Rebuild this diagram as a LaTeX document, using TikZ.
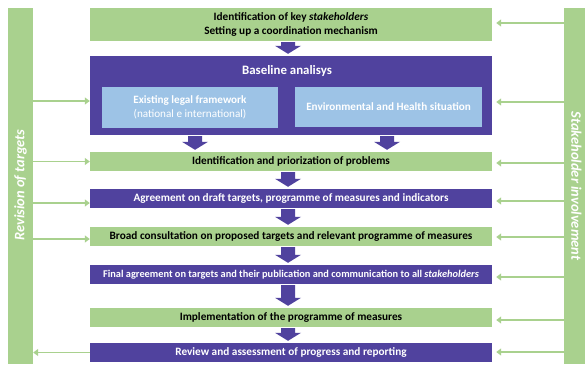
\documentclass[tikz,border=0pt]{standalone}
\usepackage{fontspec}
\setmainfont{Carlito}
\usetikzlibrary{calc,arrows.meta}
\definecolor{gr}{RGB}{169,209,142}
\definecolor{pu}{RGB}{80,66,158}
\definecolor{lb}{RGB}{157,195,230}
\tikzset{
  box/.style={minimum width=402bp, minimum height=19bp, inner sep=0pt, font=\bfseries\fontsize{11.3}{13}\selectfont},
  gbox/.style={box, fill=gr, text=black},
  pbox/.style={box, fill=pu, text=white},
  sidebar/.style={fill=gr, minimum width=25bp, minimum height=356bp, inner sep=0pt},
  sidetext/.style={text=white, font=\bfseries\itshape\fontsize{14.5}{16}\selectfont},
  subbox/.style={fill=lb, text=white, inner sep=0pt, align=center, font=\fontsize{11.2}{13.5}\selectfont},
  conn/.style={draw=gr, line width=1.6bp, -{Triangle[length=5bp,width=7bp]}},
  blkfill/.style={fill=pu},
}
\newcommand\blockarrow[3]{%
  \fill[blkfill] let \p1=(#1,0 |- #2.south), \p2=(#1,0 |- #3.north) in
    (\x1-7bp,\y1-1bp) -- (\x1+7bp,\y1-1bp) -- (\x1+7bp,\y2+10bp) -- (\x1+13bp,\y2+10bp)
    -- (\x1,\y2+2bp) -- (\x1-13bp,\y2+10bp) -- (\x1-7bp,\y2+10bp) -- cycle;}
\begin{document}
\begin{tikzpicture}[x=1bp,y=-1bp]
\useasboundingbox (0,0) rectangle (585,364);
% side bars
\node[sidebar] (rev) at (20.5,186) {};
\node[sidetext, rotate=90] (revtxt) at (20.5,185) {Revision of targets};
\node[sidebar] (stake) at (576.5,186) {};
\node[sidetext, rotate=-90] (staketxt) at (576.5,186) {Stakeholder involvement};
% main boxes
\node[gbox, minimum height=33bp, align=center, font=\bfseries\fontsize{11.3}{14}\selectfont] (top) at (291,24.5)
  {Identification of key \textit{stakeholders}\\Setting up a coordination mechanism};
\node[pbox, minimum height=79bp] (base) at (291,95.5) {};
\node[text=white, font=\bfseries\fontsize{12.9}{15}\selectfont, inner sep=0pt] (basetxt) at (287,71) {Baseline analisys};
\node[subbox, minimum width=176bp, minimum height=41bp] (legal) at (190,107.5)
  {\textbf{Existing legal framework}\\(national e international)};
\node[subbox, minimum width=187bp, minimum height=40bp] (env) at (388.5,107)
  {\textbf{Environmental and Health situation}};
\node[gbox] (ident) at (291,161.5) {Identification and priorization of problems};
\node[pbox] (agree) at (291,198.5) {Agreement on draft targets, programme of measures and indicators};
\node[gbox] (broad) at (291,236.5) {Broad consultation on proposed targets and relevant programme of measures};
\node[pbox, font=\bfseries\fontsize{10.4}{12}\selectfont] (final) at (291,274.5) {Final agreement on targets and their publication and communication to all \textit{stakeholders}};
\node[gbox] (impl) at (291,317.5) {Implementation of the programme of measures};
\node[pbox] (review) at (291,352.5) {Review and assessment of progress and reporting};
% block arrows
\blockarrow{288}{top}{base}
\blockarrow{195}{base}{ident}
\blockarrow{387}{base}{ident}
\blockarrow{288}{ident}{agree}
\blockarrow{288}{agree}{broad}
\blockarrow{288}{broad}{final}
\blockarrow{288}{final}{impl}
\blockarrow{288}{impl}{review}
% left connectors
\draw[conn] (rev.east |- 0,101) -- (base.west |- 0,101);
\draw[conn] (rev.east |- ident.west) -- (ident.west);
\draw[conn] (rev.east |- 0,203) -- (agree.west |- 0,203);
\draw[conn] (rev.east |- 0,239) -- (broad.west |- 0,239);
\draw[conn] (review.west) -- (rev.east |- review.west);
% right connectors
\draw[conn] (stake.west |- 0,23) -- ([xshift=4bp]top.east |- 0,23);
\draw[conn] (stake.west |- 0,102) -- ([xshift=4bp]base.east |- 0,102);
\draw[conn] (stake.west |- 0,163) -- ([xshift=4bp]ident.east |- 0,163);
\draw[conn] (stake.west |- 0,201) -- ([xshift=4bp]agree.east |- 0,201);
\draw[conn] (stake.west |- 0,237) -- ([xshift=4bp]broad.east |- 0,237);
\draw[conn] (stake.west |- 0,277) -- ([xshift=4bp]final.east |- 0,277);
\draw[conn] (stake.west |- 0,320) -- ([xshift=4bp]impl.east |- 0,320);
\draw[conn] (stake.west |- 0,352) -- ([xshift=4bp]review.east |- 0,352);
\end{tikzpicture}
\end{document}
